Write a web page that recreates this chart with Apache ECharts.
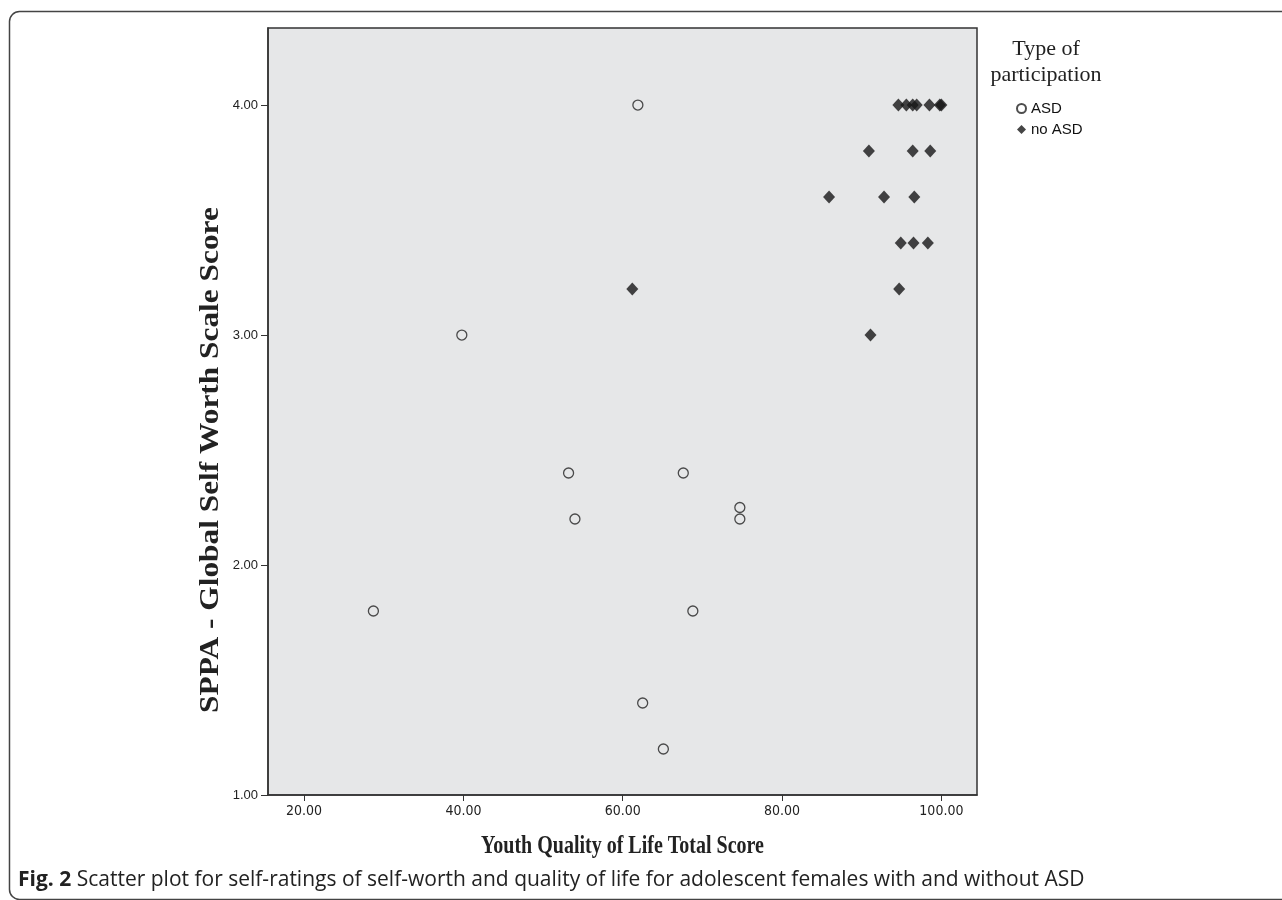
<!DOCTYPE html>
<html>
<head>
<meta charset="utf-8">
<script src="https://cdn.jsdelivr.net/npm/echarts@6/dist/echarts.min.js"></script>
<style>
html, body { margin: 0; background: #fff; }
#app { width: 1282px; height: 900px; }
</style>
</head>
<body>
<div id="app"></div>
<script>
// axis ticks
var xTicks = [20, 40, 60, 80, 100];
var yTicks = [1, 2, 3, 4];

// ASD group: quality of life total score vs. self worth score
var asdQol = [61.9, 39.8, 53.2, 54.0, 67.6, 74.7, 74.7, 68.8, 62.5, 65.1, 28.7];
var asdWorth = [4.0, 3.0, 2.4, 2.2, 2.4, 2.25, 2.2, 1.8, 1.4, 1.2, 1.8];

// no ASD group
var noAsdQol = [94.6, 95.6, 96.4, 96.9, 98.5, 99.8, 100.0, 90.9, 96.4, 98.6, 85.9, 92.8, 96.6, 94.9, 96.5, 98.3, 94.7, 61.2, 91.1];
var noAsdWorth = [4.0, 4.0, 4.0, 4.0, 4.0, 4.0, 4.0, 3.8, 3.8, 3.8, 3.6, 3.6, 3.6, 3.4, 3.4, 3.4, 3.2, 3.2, 3.0];

function pairs(xs, ys) {
    return xs.map(function (x, i) { return [x, ys[i]]; });
}

var myChart = echarts.init(document.getElementById('app'));

var option = {
    animation: false,
    backgroundColor: '#fff',
    grid: {
        left: 268, top: 28, width: 709, height: 767,
        show: true,
        backgroundColor: '#e6e7e8',
        borderColor: '#333',
        borderWidth: 1.5,
        outerBoundsMode: 'none'
    },
    xAxis: {
        type: 'value',
        min: 15.47,
        max: 104.47,
        splitLine: { show: false },
        axisLine: { show: true, onZero: false, lineStyle: { color: '#333', width: 1.5 } },
        axisTick: { show: true, length: 6, customValues: xTicks, lineStyle: { color: '#333' } },
        axisLabel: {
            customValues: xTicks,
            margin: 9,
            color: '#222',
            fontSize: 14,
            fontFamily: "'Liberation Sans Narrow', 'DejaVu Sans Condensed', sans-serif",
            formatter: function (v) { return v.toFixed(2); }
        }
    },
    yAxis: {
        type: 'value',
        min: 1,
        max: 4.335,
        splitLine: { show: false },
        axisLine: { show: true, onZero: false, lineStyle: { color: '#333', width: 1.5 } },
        axisTick: { show: true, length: 7, customValues: yTicks, lineStyle: { color: '#333' } },
        axisLabel: {
            customValues: yTicks,
            margin: 10,
            color: '#222',
            fontSize: 13,
            fontFamily: "'Liberation Sans', Arial, sans-serif",
            formatter: function (v) { return v.toFixed(2); }
        }
    },
    legend: {
        orient: 'vertical',
        left: 1011,
        top: 96,
        itemWidth: 9,
        itemHeight: 9,
        itemGap: 6,
        textStyle: { color: '#111', fontSize: 15, fontFamily: "'Liberation Sans', Arial, sans-serif" },
        data: ['ASD', 'no ASD']
    },
    series: [
        {
            name: 'ASD',
            type: 'scatter',
            symbol: 'circle',
            symbolSize: 10,
            itemStyle: { color: 'transparent', borderColor: '#222', borderWidth: 1.3 },
            data: pairs(asdQol, asdWorth)
        },
        {
            name: 'no ASD',
            type: 'scatter',
            symbol: 'diamond',
            symbolSize: [12, 13],
            itemStyle: { color: '#161616' },
            data: pairs(noAsdQol, noAsdWorth)
        }
    ],
    graphic: [
        {
            type: 'rect',
            shape: { x: 9.5, y: 11.5, width: 1300, height: 888, r: 10 },
            style: { fill: 'none', stroke: '#444', lineWidth: 1.5 },
            silent: true
        },
        {
            type: 'text',
            x: 1046, y: 62,
            style: {
                text: 'Type of\nparticipation',
                align: 'center', verticalAlign: 'middle',
                font: "22px 'Liberation Serif', serif",
                lineHeight: 26,
                fill: '#222'
            }
        },
        {
            type: 'text',
            x: 622.5, y: 846,
            scaleY: 1.3,
            style: {
                text: 'Youth Quality of Life Total Score',
                align: 'center', verticalAlign: 'middle',
                font: "bold 20px 'Liberation Serif', serif",
                fill: '#222'
            }
        },
        {
            type: 'text',
            x: 211, y: 460,
            rotation: Math.PI / 2,
            scaleX: 1.12,
            style: {
                text: 'SPPA - Global Self Worth Scale Score',
                align: 'center', verticalAlign: 'middle',
                font: "bold 28px 'Liberation Serif', serif",
                fill: '#222'
            }
        },
        {
            type: 'text',
            x: 18, y: 880,
            style: {
                text: '{b|Fig. 2} Scatter plot for self-ratings of self-worth and quality of life for adolescent females with and without ASD',
                verticalAlign: 'middle',
                font: "21px 'Open Sans', sans-serif",
                fill: '#222',
                rich: {
                    b: { font: "bold 21px 'Open Sans', sans-serif", fill: '#222' }
                }
            }
        }
    ]
};

myChart.setOption(option);
</script>
</body>
</html>
